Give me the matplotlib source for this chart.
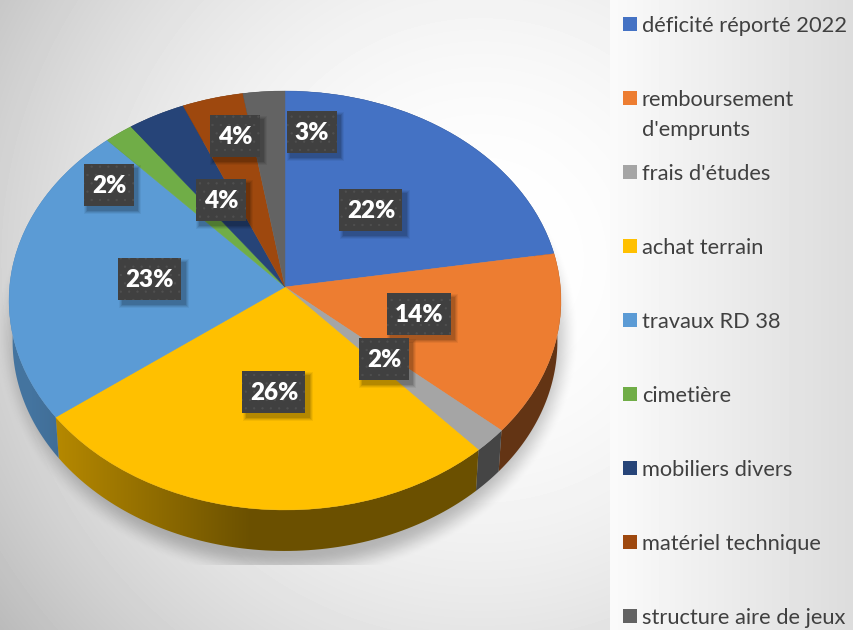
import numpy as np
import matplotlib
matplotlib.use("Agg")
import matplotlib.pyplot as plt
from matplotlib.patches import Polygon, Rectangle
from matplotlib.transforms import Transform

plt.rcParams["font.family"] = ["Lato", "DejaVu Sans"]
plt.rcParams["hatch.linewidth"] = 0.4

names = ["déficité réporté 2022", "remboursement\nd'emprunts", "frais d'études", "achat terrain",
         "travaux RD 38", "cimetière", "mobiliers divers", "matériel technique", "structure aire de jeux"]
values = [22.4, 14.0, 1.9, 26.4, 23.4, 1.8, 3.6, 3.8, 2.6]
colors = ["#4472C4", "#ED7D31", "#A5A5A5", "#FFC000", "#5B9BD5", "#70AD47", "#264478", "#9E480E", "#636363"]

# label box centres and widths, in picture pixels
label_xy = [(371, 210), (419, 314), (384, 359), (274, 392), (150, 279), (109, 185), (221, 200), (235, 136), (312, 132)]
label_w = [63, 64, 50, 63, 63, 50, 50, 50, 50]
legend_y = [24, 98, 172, 246, 320, 394, 468, 542, 616]

W, H = 854, 630
CX, CY = 285, 287
A, B, P = 208.6, 275.4, 0.0644
DEPTH, SHRINK = 41, 0.987


# tilted disc: unit circle to picture pixels, with the far side squeezed
class Tilt(Transform):
    input_dims = output_dims = 2

    def transform_non_affine(self, xy):
        xy = np.asarray(xy, dtype=float)
        w = 1 + P * xy[:, 1]
        return np.column_stack([CX + B * xy[:, 0] / w, CY - A * xy[:, 1] / w])


tilt = Tilt()

fig = plt.figure(figsize=(W / 100, H / 100), dpi=100)
ax = fig.add_axes([0, 0, 1, 1])
wedges, _ = ax.pie(values, colors=colors, startangle=90, counterclock=False, radius=1,
                   wedgeprops={"linewidth": 0.3})
ax.set_aspect("auto")

# background
yy, xx = np.mgrid[0:H, 0:W]
r2 = ((xx - 480) ** 2 + (yy - 260) ** 2) / 480 ** 2
bg = 255 - 43 * r2
panel = 250 - 30 * (xx - 610) / 244
bg = np.where(xx >= 610, panel, bg) / 255
ax.imshow(bg, cmap="gray", vmin=0, vmax=1, extent=(0, W, H, 0), aspect="auto", zorder=0)

# soft shadow under the disc, cut off by its own box
r = np.sqrt(((xx - 287) / 292) ** 2 + ((yy - 335) / 245) ** 2)
s = np.clip((1.0 - r) / 0.11, 0, 1)
shadow = np.zeros((H, W, 4))
shadow[..., 3] = 0.24 * s * s * (3 - 2 * s) * ((yy < 565) & (xx < 579))
ax.imshow(shadow, extent=(0, W, H, 0), aspect="auto", zorder=1)

# side wall, dark to the right
shade = np.interp(np.arange(W), [30, 250], [0.75, 0.42])
for wedge, c in zip(wedges, colors):
    t = np.radians(np.linspace(wedge.theta1, wedge.theta2, 80))
    top = tilt.transform(np.column_stack([np.cos(t), np.sin(t)]))
    bottom = np.column_stack([CX + SHRINK * (top[:, 0] - CX), top[:, 1] + DEPTH])
    wall = Polygon(np.vstack([top, bottom[::-1]]), closed=True, transform=ax.transData, fc="none", lw=0)
    ax.add_patch(wall)
    rgb = np.array(matplotlib.colors.to_rgb(c))
    im = ax.imshow(rgb[None, None, :] * shade[None, :, None], extent=(0, W, H, 0), aspect="auto", zorder=2)
    im.set_clip_path(wall)

for wedge, c in zip(wedges, colors):
    wedge.set_edgecolor(c)
    wedge.set_transform(tilt + ax.transData)
    wedge.set_zorder(3)

# percent labels
for v, (x, y), w in zip(values, label_xy, label_w):
    h = 42
    for k, a in zip([7, 5, 3, 1], [0.05, 0.07, 0.09, 0.11]):
        ax.add_patch(Rectangle((x - w / 2 + 4 - k / 2, y - h / 2 + 4 - k / 2), w + k, h + k, fc="black", alpha=a, lw=0, zorder=4))
    ax.add_patch(Rectangle((x - w / 2, y - h / 2), w, h, fc="#404040", ec="#505050", hatch="..", lw=0, zorder=5))
    ax.text(x, y + 1, f"{v:.0f}%", color="white", fontsize=17.5, fontweight="heavy", ha="center", va="center", zorder=6)

# legend
for name, c, y in zip(names, colors, legend_y):
    ax.add_patch(Rectangle((623, y - 7), 14, 14, fc=c, lw=0, zorder=5))
    ax.text(642, y - 8.5, name, color="#404040", fontsize=15.75, ha="left", va="top", linespacing=1.63, zorder=6)

ax.set_xlim(0, W)
ax.set_ylim(H, 0)
ax.axis("off")
fig.savefig("out.png", dpi=100)
